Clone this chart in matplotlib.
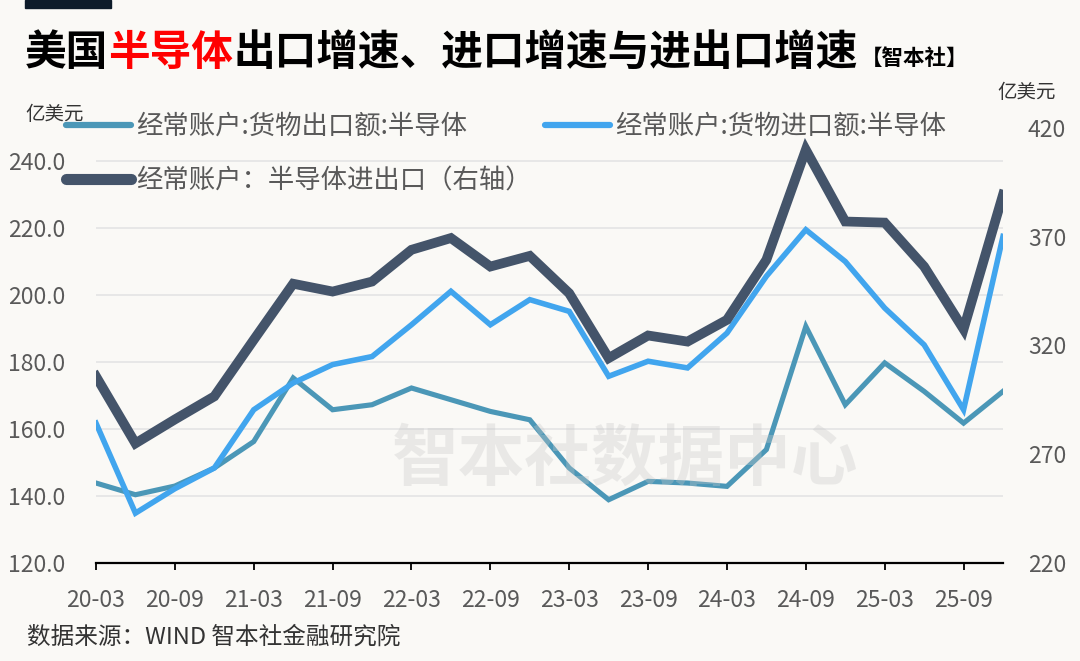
import numpy as np
import matplotlib
matplotlib.use("Agg")
import matplotlib.pyplot as plt
from matplotlib.lines import Line2D
from matplotlib.patches import Rectangle

plt.rcParams['font.family'] = ['Noto Sans CJK SC', 'DejaVu Sans']

quarters = ['20-03', '20-06', '20-09', '20-12', '21-03', '21-06', '21-09', '21-12',
            '22-03', '22-06', '22-09', '22-12', '23-03', '23-06', '23-09', '23-12',
            '24-03', '24-06', '24-09', '24-12', '25-03', '25-06', '25-09', '25-12']
export_semi = [143.9, 140.4, 143.0, 148.4, 156.3, 175.3, 165.8, 167.3, 172.3, 168.8, 165.3, 162.8,
               148.4, 138.9, 144.4, 143.9, 142.9, 153.9, 190.7, 167.3, 179.8, 171.3, 161.8, 171.3]
import_semi = [161.8, 134.9, 142.2, 148.4, 165.8, 173.8, 179.3, 181.7, 191.2, 201.2, 191.2, 198.7,
               195.2, 175.8, 180.3, 178.3, 188.7, 205.7, 219.6, 210.1, 196.2, 185.2, 165.8, 217.6]
total_semi = [305.8, 275.0, 286.0, 296.6, 322.6, 348.4, 344.8, 349.4, 364.0, 369.4, 356.3, 361.2,
              344.0, 314.2, 324.6, 321.8, 331.8, 359.4, 410.0, 377.0, 376.5, 356.3, 327.5, 389.3]
left_ticks = [120, 140, 160, 180, 200, 220, 240]
right_ticks = [220, 270, 320, 370, 420]
labels = ['经常账户:货物出口额:半导体', '经常账户:货物进口额:半导体', '经常账户：半导体进出口（右轴）']

bg = '#FAF9F6'
c_exp = '#4B97B7'
c_imp = '#41A5EE'
c_tot = '#44546A'

W, H = 1080, 661
fig = plt.figure(figsize=(W / 100, H / 100), dpi=100, facecolor=bg)
ax = fig.add_axes([96 / W, 1 - 563 / H, 907 / W, 435 / H], facecolor=bg)
ax2 = ax.twinx()

x = np.arange(len(quarters))
ax.plot(x, export_semi, color=c_exp, lw=3.7, solid_joinstyle='miter', zorder=3)
ax.plot(x, import_semi, color=c_imp, lw=4.0, solid_joinstyle='miter', zorder=4)
ax2.plot(x, total_semi, color=c_tot, lw=7.0, solid_joinstyle='miter', zorder=3)

ax.set_xlim(0, len(quarters) - 1)
ax.set_ylim(120, 250)
ax2.set_ylim(220, 420)

ax.set_yticks(left_ticks)
ax.set_yticklabels([f'{v:.1f}' for v in left_ticks])
ax2.set_yticks(right_ticks)
ax2.set_yticklabels([str(v) for v in right_ticks])
ax.set_xticks(x[::2])
ax.set_xticklabels(quarters[::2])

for a in (ax, ax2):
    for s in a.spines.values():
        s.set_visible(False)
ax.spines['bottom'].set_visible(True)
ax.spines['bottom'].set_linewidth(1.6)
ax.spines['bottom'].set_color('black')

ax.tick_params(axis='y', length=0, pad=22, labelsize=16.5, labelcolor='#595959')
ax2.tick_params(axis='y', length=0, pad=18, labelsize=16.5, labelcolor='#595959')
ax.tick_params(axis='x', direction='out', length=5, width=1.3, color='black',
               pad=14, labelsize=16.5, labelcolor='#595959')

ax.grid(axis='y', color='#E6E6E6', lw=1.3, zorder=0)
ax.set_axisbelow(True)

# legend
h_exp = Line2D([], [], color=c_exp, lw=4.5, solid_capstyle='round')
h_imp = Line2D([], [], color=c_imp, lw=4.5, solid_capstyle='round')
h_tot = Line2D([], [], color=c_tot, lw=8, solid_capstyle='round')
leg_kw = dict(frameon=False, loc='upper left', borderpad=0, borderaxespad=0,
              handlelength=2.45, handletextpad=0.2, labelspacing=1.05,
              prop={'size': 19}, labelcolor='#595959', bbox_transform=fig.transFigure)
leg1 = ax2.legend([h_exp, h_tot], [labels[0], labels[2]],
                  bbox_to_anchor=(66 / W, 1 - 113 / H), **leg_kw)
ax2.add_artist(leg1)
ax2.legend([h_imp], [labels[1]], bbox_to_anchor=(545 / W, 1 - 113 / H), **leg_kw)

# title and decorations
fig.patches.append(Rectangle((25 / W, 1 - 8 / H), 86 / W, 8 / H, color='#0D1B2A',
                             transform=fig.transFigure, figure=fig))
fs_title = 30
cw = fs_title * 100 / 72
ty = 1 - 53 / H
fig.text(25 / W, ty, '美国', fontsize=fs_title, fontweight='bold', color='black', va='center')
fig.text((25 + 2 * cw) / W, ty, '半导体', fontsize=fs_title, fontweight='bold', color='#FF0000', va='center')
fig.text((25 + 5 * cw) / W, ty, '出口增速、进口增速与进出口增速', fontsize=fs_title,
         fontweight='bold', color='black', va='center')
fig.text((25 + 20 * cw + 2) / W, 1 - 58 / H, '【智本社】', fontsize=15.5, fontweight='bold',
         color='black', va='center')

fig.text(25 / W, 1 - 114 / H, '亿美元', fontsize=14, color='#333333', va='center')
fig.text(997 / W, 1 - 92 / H, '亿美元', fontsize=14, color='#333333', va='center')

fig.text(625 / W, 1 - 460 / H, '智本社数据中心', fontsize=48, fontweight='bold',
         color='#C8C8C8', alpha=0.33, ha='center', va='center', zorder=10)

fig.text(27 / W, 1 - 637 / H, '数据来源：WIND 智本社金融研究院', fontsize=17,
         color='#333333', va='center')

fig.savefig('out.png', dpi=100, facecolor=bg)
